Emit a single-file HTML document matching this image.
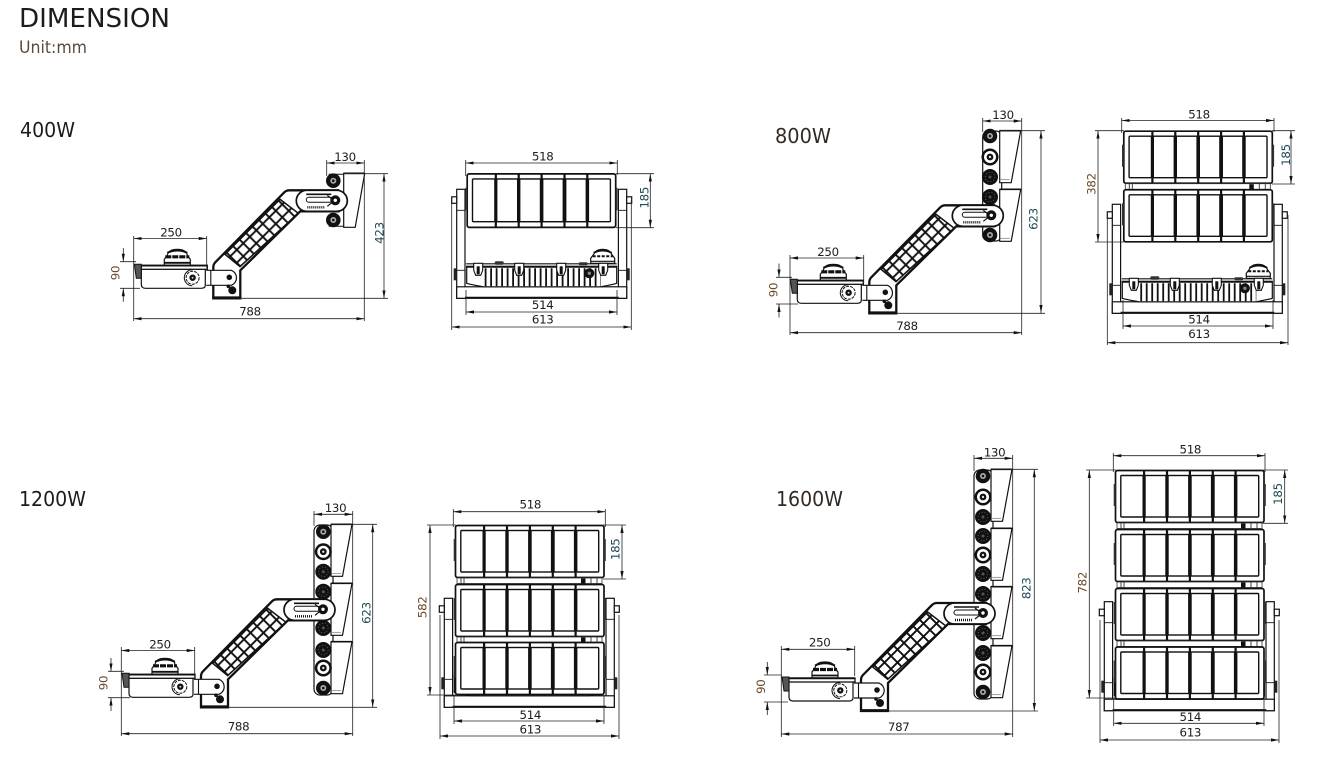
<!DOCTYPE html>
<html><head><meta charset="utf-8"><title>Dimension</title>
<style>
html,body{margin:0;padding:0;background:#fff}
svg{display:block}
text{font-family:"DejaVu Sans","Liberation Sans",sans-serif;fill:#1c1c1c}
.n{font-size:11.8px;text-anchor:middle;letter-spacing:-.3px}
.d{stroke:#222;stroke-width:.8;fill:none}
.a{marker-start:url(#ar);marker-end:url(#ar)}
.i{marker-end:url(#ar)}
.br{fill:#6b4a2a}.te{fill:#1f4a55}
.s{fill:#fff;stroke:#111;stroke-width:1.2}
</style></head><body>
<svg width="1344" height="762" viewBox="0 0 1344 762" xmlns="http://www.w3.org/2000/svg">
<defs>
<marker id="ar" markerUnits="userSpaceOnUse" markerWidth="9" markerHeight="5" refX="8" refY="2.5" orient="auto-start-reverse"><path d="M0 .9L8 2.5L0 4.1z" fill="#111"/></marker>
<pattern id="lat" patternUnits="userSpaceOnUse" width="13" height="13" patternTransform="translate(30 -55)"><path d="M0 0L13 13M13 0L0 13" stroke="#111" stroke-width="1.900"/></pattern>

<g id="b1"><circle r="7.3" fill="#111"/><circle r="3" fill="#aaa"/><circle r="1.3" fill="#111"/></g>
<g id="b2"><circle r="8.5" fill="#111"/><circle r="6" fill="#fff"/><circle r="3.4" fill="#111"/><circle r="1.2" fill="#ddd"/></g>
<g id="b3"><circle r="8" fill="#111"/><circle r="4.8" fill="none" stroke="#777" stroke-width=".7" stroke-dasharray="1 2"/><circle r="1.5" fill="#555"/></g>

<g id="wedge"><path d="M17 0H38L28.5 52H17Z" class="s"/><path d="M17 0H38" stroke="#111" stroke-width="1.6"/><path d="M17 49H27" stroke="#777" stroke-width=".7"/></g>

<g id="base">
 <!-- lamp body -->
 <path d="M-49 -33V-39L-46 -43Q-45 -49 -36 -49Q-27 -49 -26 -43L-23 -39V-33Z" class="s"/>
 <path d="M-46 -45.500Q-36 -50 -26 -45.500" fill="none" stroke="#111" stroke-width="2"/>
 <path d="M-48 -41.500H-24" stroke="#111" stroke-width="3.200" stroke-dasharray="6 1"/>
 <path d="M-49 -35.500H-23" stroke="#111" stroke-width="1.800"/>
 <path d="M-72 -30H-8V-13Q-8 -10 -12 -10H-68Q-72 -10 -72 -14Z" class="s"/>
 <rect x="-72" y="-33" width="66" height="4" fill="#fff" stroke="#111" stroke-width="1.300"/>
 <path d="M-72 -32.700H-6" stroke="#111" stroke-width="1.800"/>
 <path d="M-79 -34H-72V-20H-77Z" fill="#555" stroke="#111" stroke-width="1"/>
 <path d="M-21 -28.500A8 8 0 0 0 -21 -12.500" fill="none" stroke="#111" stroke-width="1"/>
 <circle cx="-20.700" cy="-20.600" r="6.500" fill="#fff" stroke="#111" stroke-width="1" stroke-dasharray="3 1"/>
 <circle cx="-20.700" cy="-20.600" r="3.200" fill="#111"/><circle cx="-20.700" cy="-20.600" r="1" fill="#ccc"/>
 <!-- arm -->
 <path d="M0 0H27V-28L87 -87H125V-108H76Q73 -108 71 -106L2 -36Q0 -34 0 -31Z" fill="#fff" stroke="#111" stroke-width="2.300"/>
 <path d="M11.700 -44L66.700 -99L85 -85L26.700 -31.700Z" fill="url(#lat)" stroke="#111" stroke-width="1.500"/>
 <path d="M-7 -28H18A8 8 0 0 1 18 -13H-7" class="s"/>
 <path d="M-2.500 -28V-13" stroke="#111" stroke-width="1.100"/>
 <circle cx="16" cy="-21" r="2.800" fill="#111"/><circle cx="19" cy="-8" r="4" fill="#111"/><circle cx="15" cy="-12" r="1.800" fill="#111"/>
 <path d="M-1 -.8H28" stroke="#111" stroke-width="2.200"/>
 <!-- pivot -->
 <rect x="83" y="-108" width="51" height="21" rx="10.500" fill="#fff" stroke="#111" stroke-width="1.700"/>
 <rect x="93" y="-101" width="26" height="5" rx="2.500" fill="#fff" stroke="#111" stroke-width="1"/>
 <path d="M93 -104H118" stroke="#111" stroke-width="1.600"/>
 <path d="M94 -91H112" stroke="#111" stroke-width="2.400" stroke-dasharray="1 1"/>
 <circle cx="122" cy="-98" r="5" fill="#111"/><circle cx="122" cy="-98" r="1.700" fill="#fff"/>
 <path d="M114 -103L119 -99M114 -92L119 -96" stroke="#111" stroke-width="1.200"/>
</g>

<g id="yoke">
 <rect x="0" y="-109" width="8.300" height="109" class="s"/>
 <rect x="161.700" y="-109" width="8.300" height="109" class="s"/>
 <rect x="-5" y="-101.500" width="5" height="6.500" class="s"/>
 <rect x="170" y="-101.500" width="5" height="6.500" class="s"/>
 <path d="M0 -88H8.300M161.700 -88H170M0 -28H8.300M161.700 -28H170" stroke="#111" stroke-width=".9"/>
 <rect x="-3" y="-30" width="3" height="12" fill="#222"/><rect x="170" y="-30" width="3" height="12" fill="#222"/>
 <rect x="0" y="-11.500" width="170" height="11.500" class="s"/>
 <path d="M8.300 -.8H162" stroke="#111" stroke-width="1.600"/>
</g>

<g id="driver">
 <path d="M134 -35V-40L137 -44Q139 -49 146 -49Q153 -49 155 -44L158 -40V-35Z" class="s"/>
 <path d="M137 -45.500Q146 -50 155 -45.500" fill="none" stroke="#111" stroke-width="1.800"/>
 <path d="M136 -42H156" stroke="#111" stroke-width="2" stroke-dasharray="3 1.500"/>
 <path d="M134 -37H158" stroke="#111" stroke-width="1.200"/>
 <path d="M10 -32H160V-15Q157 -14 144 -11.500H27Q13 -14 10 -15Z" class="s"/>
 <path d="M9.500 -34.500H160" stroke="#111" stroke-width="1.200"/>
 <path d="M9.500 -31.500H160" stroke="#111" stroke-width="1.800"/>
 <path d="M28 -21H144" stroke="#111" stroke-width="18" stroke-dasharray="1.800 3.700"/>
 <circle cx="132.600" cy="-25" r="5" fill="#111"/><circle cx="132.600" cy="-25" r="1.700" fill="#888"/>
 <g fill="#fff" stroke="#111" stroke-width="1.100">
  <path d="M17 -35H26V-28L24 -23H19L17 -28Z"/><path d="M58 -35H67V-28L65 -23H60L58 -28Z"/>
  <path d="M100 -35H109V-28L107 -23H102L100 -28Z"/><path d="M142 -35H151V-28L149 -23H144L142 -28Z"/>
 </g>
 <g fill="#111"><rect x="20" y="-32" width="3" height="8"/><rect x="61" y="-32" width="3" height="8"/><rect x="103" y="-32" width="3" height="8"/><rect x="145" y="-32" width="3" height="8"/></g>
 <rect x="38" y="-37" width="9" height="3.500" rx="1.500" fill="#333"/><rect x="122" y="-36" width="9" height="3" rx="1.500" fill="#333"/>
</g>

<g id="panel">
 <rect x=".5" y=".5" width="148.500" height="52" rx="2" fill="#fff" stroke="#111" stroke-width="1.700"/>
 <g fill="#fff" stroke="#111" stroke-width="1.400">
  <rect x="5.800" y="5.500" width="22.400" height="41.500" rx="1"/>
  <rect x="30" y="5.500" width="21" height="41.500"/>
  <rect x="53" y="5.500" width="20.800" height="41.500"/>
  <rect x="76" y="5.500" width="20.600" height="41.500"/>
  <rect x="99" y="5.500" width="20.600" height="41.500"/>
  <rect x="121.700" y="5.500" width="22" height="41.500" rx="1"/>
 </g>
 <path d="M29.100 1V52M52 1V52M74.900 1V52M97.800 1V52M120.600 1V52" stroke="#111" stroke-width="2.200"/>
 <rect x="-1.300" y="14" width="1.800" height="22" fill="#333"/><rect x="149" y="14" width="1.800" height="22" fill="#333"/>
</g>
<g id="strip">
 <rect x="2" y="53" width="145" height="5.500" fill="#fff" stroke="#333" stroke-width=".8"/>
 <path d="M6 53V58.500M142 53V58.500M136 53V58.500M9 53V58.500" stroke="#333" stroke-width=".9"/>
 <rect x="126" y="53.500" width="4.500" height="5" fill="#111"/>
</g>
</defs>

<rect width="1344" height="762" fill="#fff"/>

<!-- Headings -->
<text x="19" y="27" font-size="26" textLength="151" lengthAdjust="spacingAndGlyphs">DIMENSION</text>
<text x="19" y="53" font-size="17" textLength="68" lengthAdjust="spacingAndGlyphs" style="fill:#5a4a3c">Unit:mm</text>
<text x="20" y="137" font-size="20.500" textLength="55" lengthAdjust="spacingAndGlyphs">400W</text>
<text x="775" y="143" font-size="20.500" textLength="56" lengthAdjust="spacingAndGlyphs" style="fill:#332a24">800W</text>
<text x="19" y="506" font-size="20.500" textLength="67" lengthAdjust="spacingAndGlyphs">1200W</text>
<text x="776" y="506" font-size="20.500" textLength="67" lengthAdjust="spacingAndGlyphs" style="fill:#332a24">1600W</text>

<!-- ========== 400W side ========== -->
<g transform="translate(326.700 173.300)">
 <path d="M17 0H38L28.500 54H17Z" class="s"/><path d="M17 0H38" stroke="#111" stroke-width="1.600"/>
 <path d="M2 1H17M2 53H17" stroke="#111" stroke-width="1"/>
</g>
<use href="#b1" x="333.300" y="180.700"/><use href="#b1" x="333.300" y="220"/>
<use href="#base" transform="translate(213.300 298.300)"/>
<g class="d">
 <line class="a" x1="326.700" y1="163" x2="364.300" y2="163"/>
 <line class="a" x1="384" y1="173.700" x2="384" y2="298.300"/>
 <line class="a" x1="133.700" y1="318.700" x2="364.300" y2="318.700"/>
 <line class="a" x1="133.700" y1="238.500" x2="206.700" y2="238.500"/>
 <line class="i" x1="123.300" y1="248" x2="123.300" y2="261.700"/>
 <line class="i" x1="123.300" y1="301.700" x2="123.300" y2="288.300"/>
 <path d="M326.700 160V176M364.300 160V321M133.700 236V321M206.700 236V268M343 173.700H388M240 298.300H388M120 261.700H136M120 288.300H140"/>
</g>
<text class="n" x="345" y="161">130</text><text class="n" x="171" y="236.700">250</text><text class="n" x="250" y="315.700">788</text>
<text class="n te" transform="rotate(-90 383.700 233)" x="383.700" y="233">423</text>
<text class="n br" transform="rotate(-90 119.700 273)" x="119.700" y="273">90</text>

<!-- ========== 400W front ========== -->
<g transform="translate(456.700 298.300)"><use href="#yoke"/><use href="#driver"/></g>
<use href="#panel" transform="translate(466.700 173.300) scale(1 1.030)"/>
<g class="d">
 <line class="a" x1="465.700" y1="163" x2="617.300" y2="163"/>
 <line class="a" x1="650.300" y1="173.700" x2="650.300" y2="227.700"/>
 <line class="a" x1="466" y1="312" x2="617" y2="312"/>
 <line class="a" x1="451.700" y1="327" x2="631.300" y2="327"/>
 <path d="M465.700 160V176M617.300 160V175M616 173.700H654M616 227.700H654M466 290V315M617 290V315M451.700 198V330M631.300 200V330"/>
</g>
<text class="n" x="542.700" y="160.700">518</text><text class="n" x="542.700" y="309">514</text><text class="n" x="542.700" y="323.700">613</text>
<text class="n te" transform="rotate(-90 648.700 197.700)" x="648.700" y="197.700">185</text>

<!-- ========== 800W side ========== -->
<rect x="982.700" y="131" width="19" height="110" rx="6" class="s"/>
<use href="#wedge" transform="translate(982.700 130.700)"/><use href="#wedge" transform="translate(982.700 189.300)"/>
<use href="#b1" x="990" y="136"/><use href="#b2" x="990" y="157"/><use href="#b3" x="990" y="177"/><use href="#b3" x="990" y="197"/><use href="#b1" x="990" y="235"/>
<use href="#base" transform="translate(869.300 313.300)"/>
<g class="d">
 <line class="a" x1="982.700" y1="121" x2="1021.700" y2="121"/>
 <line class="a" x1="1041" y1="130.700" x2="1041" y2="313"/>
 <line class="a" x1="790" y1="332.700" x2="1021.700" y2="332.700"/>
 <line class="a" x1="790" y1="258" x2="863.700" y2="258"/>
 <line class="i" x1="779" y1="263.500" x2="779" y2="277.300"/>
 <line class="i" x1="779" y1="317.500" x2="779" y2="304"/>
 <path d="M982.700 118V132M1021.700 118V335M790 255V335M863.700 255V283M1000 130.700H1045M896 313.300H1045M776 277.300H792M776 304H798"/>
</g>
<text class="n" x="1003" y="119">130</text><text class="n" x="828" y="256">250</text><text class="n" x="907" y="330">788</text>
<text class="n te" transform="rotate(-90 1037.300 219)" x="1037.300" y="219">623</text>
<text class="n br" transform="rotate(-90 777.300 290)" x="777.300" y="290">90</text>

<!-- ========== 800W front ========== -->
<g transform="translate(1112.300 313.300)"><use href="#yoke"/><use href="#driver"/></g>
<g transform="translate(1123.300 130.700)"><use href="#panel"/><use href="#strip"/></g>
<use href="#panel" transform="translate(1123.300 189.300)"/>
<g class="d">
 <line class="a" x1="1121.700" y1="120.500" x2="1274" y2="120.500"/>
 <line class="a" x1="1291" y1="130.700" x2="1291" y2="184"/>
 <line class="a" x1="1098" y1="130.700" x2="1098" y2="242"/>
 <line class="a" x1="1123" y1="326" x2="1273" y2="326"/>
 <line class="a" x1="1107.300" y1="342.700" x2="1288" y2="342.700"/>
 <path d="M1121.700 118V133M1274 118V132M1272 130.700H1295M1272 184H1295M1095 130.700H1124M1095 242H1124M1123 300V329M1273 300V329M1107.300 215V345M1288 215V345"/>
</g>
<text class="n" x="1199" y="118.300">518</text><text class="n" x="1199" y="323.300">514</text><text class="n" x="1199" y="338">613</text>
<text class="n te" transform="rotate(-90 1290 155)" x="1290" y="155">185</text>
<text class="n br" transform="rotate(-90 1095.700 184)" x="1095.700" y="184">382</text>

<!-- ========== 1200W side ========== -->
<rect x="314" y="525" width="19" height="170" rx="6" class="s"/>
<use href="#wedge" transform="translate(314 524.300)"/><use href="#wedge" transform="translate(314 583.300)"/><use href="#wedge" transform="translate(314 641.700)"/>
<use href="#b1" x="323.300" y="531.700"/><use href="#b2" x="323.300" y="551.700"/><use href="#b3" x="323.300" y="571.700"/><use href="#b3" x="323.300" y="591.700"/><use href="#b3" x="323.300" y="628"/><use href="#b3" x="323.300" y="650"/><use href="#b2" x="323.300" y="668"/><use href="#b1" x="323.300" y="688"/>
<use href="#base" transform="translate(201 707.300)"/>
<g class="d">
 <line class="a" x1="314" y1="514.300" x2="352.700" y2="514.300"/>
 <line class="a" x1="372.700" y1="524.300" x2="372.700" y2="707.300"/>
 <line class="a" x1="121.300" y1="733.700" x2="352.700" y2="733.700"/>
 <line class="a" x1="121.300" y1="650.500" x2="194.700" y2="650.500"/>
 <line class="i" x1="111" y1="658" x2="111" y2="671.300"/>
 <line class="i" x1="111" y1="711" x2="111" y2="697.700"/>
 <path d="M314 511V526M352.700 511V736M121.300 647V736M194.700 647V677M332 524.300H377M228 707.300H377M108 671.300H124M108 697.700H130"/>
</g>
<text class="n" x="335.500" y="512">130</text><text class="n" x="160" y="648.300">250</text><text class="n" x="238.500" y="730.700">788</text>
<text class="n te" transform="rotate(-90 370.700 613)" x="370.700" y="613">623</text>
<text class="n br" transform="rotate(-90 107.300 683)" x="107.300" y="683">90</text>

<!-- ========== 1200W front ========== -->
<g transform="translate(444.300 707.300)"><use href="#yoke"/><use href="#driver"/></g>
<g transform="translate(455 525)"><use href="#panel"/><use href="#strip"/></g>
<g transform="translate(455 584)"><use href="#panel"/><use href="#strip"/></g>
<use href="#panel" transform="translate(455 642)"/>
<g class="d">
 <line class="a" x1="453.300" y1="511.700" x2="605.300" y2="511.700"/>
 <line class="a" x1="622" y1="525" x2="622" y2="579"/>
 <line class="a" x1="430" y1="525" x2="430" y2="695"/>
 <line class="a" x1="454" y1="721" x2="604" y2="721"/>
 <line class="a" x1="440" y1="736" x2="619" y2="736"/>
 <path d="M453.300 509V527M605.300 509V527M603 525H626M603 579H626M427 525H456M427 695H456M454 696V724M604 696V724M440 615V739M619 615V739"/>
</g>
<text class="n" x="530.300" y="508.700">518</text><text class="n" x="530.300" y="719">514</text><text class="n" x="530.300" y="733.300">613</text>
<text class="n te" transform="rotate(-90 619.700 549.300)" x="619.700" y="549.300">185</text>
<text class="n br" transform="rotate(-90 426.700 607.300)" x="426.700" y="607.300">582</text>

<!-- ========== 1600W side ========== -->
<rect x="974" y="470" width="19" height="229" rx="6" class="s"/>
<use href="#wedge" transform="translate(974 469.300)"/><use href="#wedge" transform="translate(974 528.300)"/><use href="#wedge" transform="translate(974 586.700)"/><use href="#wedge" transform="translate(974 645.700)"/>
<use href="#b1" x="983" y="476"/><use href="#b2" x="983" y="497"/><use href="#b3" x="983" y="517"/><use href="#b3" x="983" y="536"/><use href="#b2" x="983" y="555"/><use href="#b3" x="983" y="574"/><use href="#b3" x="983" y="594"/><use href="#b3" x="983" y="633"/><use href="#b3" x="983" y="653"/><use href="#b2" x="983" y="672"/><use href="#b1" x="983" y="692"/>
<use href="#base" transform="translate(861 711)"/>
<g class="d">
 <line class="a" x1="974" y1="458.300" x2="1012.700" y2="458.300"/>
 <line class="a" x1="1034.300" y1="469.300" x2="1034.300" y2="711"/>
 <line class="a" x1="781.300" y1="734" x2="1012.700" y2="734"/>
 <line class="a" x1="781.300" y1="649.300" x2="854.700" y2="649.300"/>
 <line class="i" x1="767.300" y1="662" x2="767.300" y2="675"/>
 <line class="i" x1="767.300" y1="715" x2="767.300" y2="702"/>
 <path d="M974 455V471M1012.700 455V737M781.300 646V737M854.700 646V676M992 469.300H1038M888 711H1038M764 675H782M764 702H788"/>
</g>
<text class="n" x="994.500" y="456.300">130</text><text class="n" x="819.700" y="646.700">250</text><text class="n" x="898.700" y="731">787</text>
<text class="n te" transform="rotate(-90 1030.700 588.300)" x="1030.700" y="588.300">823</text>
<text class="n br" transform="rotate(-90 765 686.700)" x="765" y="686.700">90</text>

<!-- ========== 1600W front ========== -->
<g transform="translate(1104.300 710.700)"><use href="#yoke"/><use href="#driver"/></g>
<g transform="translate(1115 470)"><use href="#panel"/><use href="#strip"/></g>
<g transform="translate(1115 529)"><use href="#panel"/><use href="#strip"/></g>
<g transform="translate(1115 588)"><use href="#panel"/><use href="#strip"/></g>
<use href="#panel" transform="translate(1115 646.500)"/>
<g class="d">
 <line class="a" x1="1113.300" y1="455.700" x2="1265" y2="455.700"/>
 <line class="a" x1="1284.700" y1="470" x2="1284.700" y2="523.300"/>
 <line class="a" x1="1089.300" y1="470" x2="1089.300" y2="698"/>
 <line class="a" x1="1113.700" y1="723.300" x2="1264" y2="723.300"/>
 <line class="a" x1="1100" y1="740" x2="1279" y2="740"/>
 <path d="M1113.300 453V472M1265 453V472M1263 470H1288M1263 523.300H1288M1086 470H1116M1086 698H1116M1113.700 700V726M1264 700V726M1100 620V743M1279 620V743"/>
</g>
<text class="n" x="1190.300" y="453.700">518</text><text class="n" x="1190.300" y="721">514</text><text class="n" x="1190.300" y="736.700">613</text>
<text class="n te" transform="rotate(-90 1282 494)" x="1282" y="494">185</text>
<text class="n br" transform="rotate(-90 1086.700 582.700)" x="1086.700" y="582.700">782</text>
</svg>
</body></html>
